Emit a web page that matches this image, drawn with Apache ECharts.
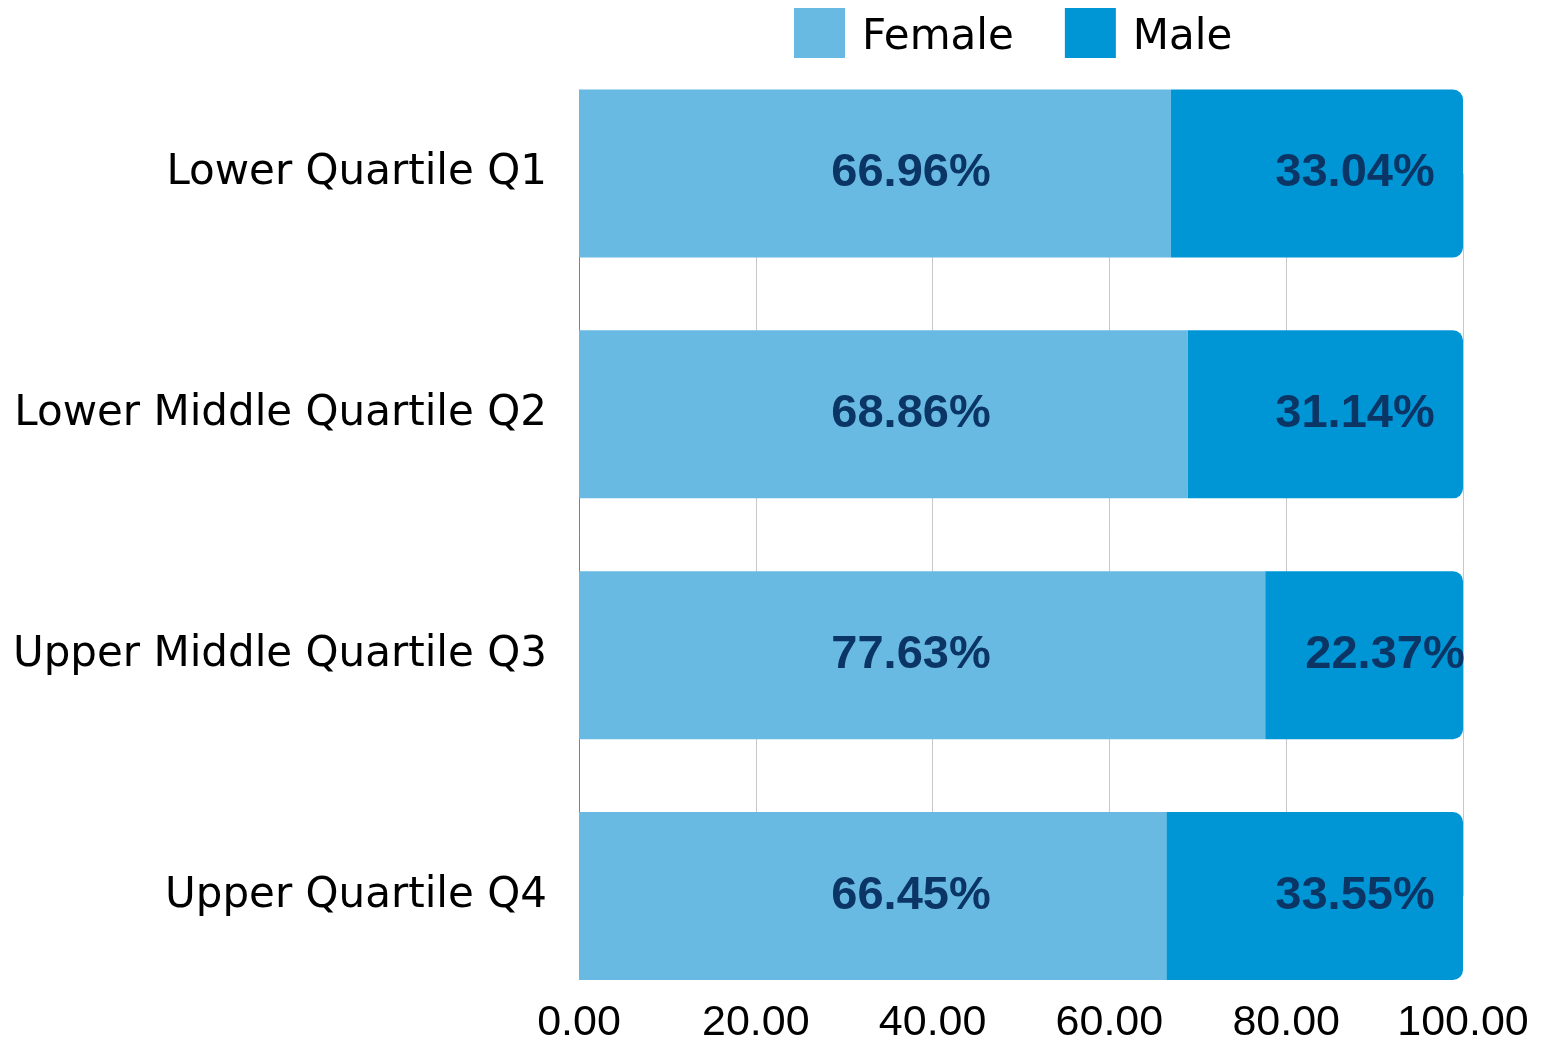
<!DOCTYPE html>
<html>
<head>
<meta charset="utf-8">
<script src="https://cdn.jsdelivr.net/npm/echarts@6/dist/echarts.min.js"></script>
<style>
html,body{margin:0;padding:0;background:#fff;}
#chart{width:1544px;height:1045px;}
</style>
</head>
<body>
<div id="chart"></div>
<script>
const categories = ['Lower Quartile Q1', 'Lower Middle Quartile Q2', 'Upper Middle Quartile Q3', 'Upper Quartile Q4'];
const femaleValues = [66.96, 68.86, 77.63, 66.45];
const maleValues = [33.04, 31.14, 22.37, 33.55];
const xTicks = [0, 20, 40, 60, 80, 100];

const catFont = '"DejaVu Sans", sans-serif';
const numFont = '"Liberation Sans", Arial, sans-serif';
const labelColor = '#0b3565';

const maleData = maleValues.map((v, i) => i === 2 ? {value: v, label: {offset: [30, 0]}} : v);

const chart = echarts.init(document.getElementById('chart'), null, {renderer: 'canvas'});
chart.setOption({
  animation: false,
  backgroundColor: '#ffffff',
  legend: {
    top: 3,
    left: 789,
    itemWidth: 51,
    itemHeight: 50,
    itemGap: 51,
    icon: 'rect',
    formatter: '{t|{name}}',
    textStyle: {
      fontFamily: catFont, fontSize: 42, color: '#000',
      rich: {t: {fontFamily: catFont, fontSize: 42, color: '#000', padding: [10, 0, 0, 12]}}
    },
    data: ['Female', 'Male']
  },
  grid: {left: 579, right: 81, top: 173.5, bottom: 144, containLabel: false},
  xAxis: {
    type: 'value',
    min: xTicks[0],
    max: xTicks[xTicks.length - 1],
    interval: 20,
    axisLine: {show: false},
    axisTick: {show: false},
    splitLine: {show: true, lineStyle: {color: '#c8c8c8', width: 1}},
    axisLabel: {
      margin: 106,
      fontFamily: numFont,
      fontSize: 43,
      color: '#000',
      formatter: v => v.toFixed(2)
    }
  },
  yAxis: {
    type: 'category',
    data: categories,
    inverse: true,
    boundaryGap: false,
    axisLine: {show: true, lineStyle: {color: '#808080', width: 1}},
    axisTick: {show: false},
    splitLine: {show: false},
    axisLabel: {margin: 32, fontFamily: catFont, fontSize: 42, color: '#000'}
  },
  series: [
    {
      name: 'Female',
      type: 'bar',
      stack: 'total',
      barWidth: 168,
      data: femaleValues,
      itemStyle: {color: '#69bae3'},
      label: {
        show: true,
        position: [332, '50%'],
        align: 'center',
        verticalAlign: 'middle',
        fontFamily: numFont,
        fontWeight: 'bold',
        fontSize: 47,
        color: labelColor,
        formatter: p => p.value.toFixed(2) + '%'
      }
    },
    {
      name: 'Male',
      type: 'bar',
      stack: 'total',
      barWidth: 168,
      data: maleData,
      itemStyle: {color: '#0096d6', borderRadius: [0, 10, 10, 0]},
      label: {
        show: true,
        position: 'insideRight',
        distance: 108,
        align: 'center',
        verticalAlign: 'middle',
        fontFamily: numFont,
        fontWeight: 'bold',
        fontSize: 47,
        color: labelColor,
        formatter: p => p.value.toFixed(2) + '%'
      }
    }
  ]
});
</script>
</body>
</html>
